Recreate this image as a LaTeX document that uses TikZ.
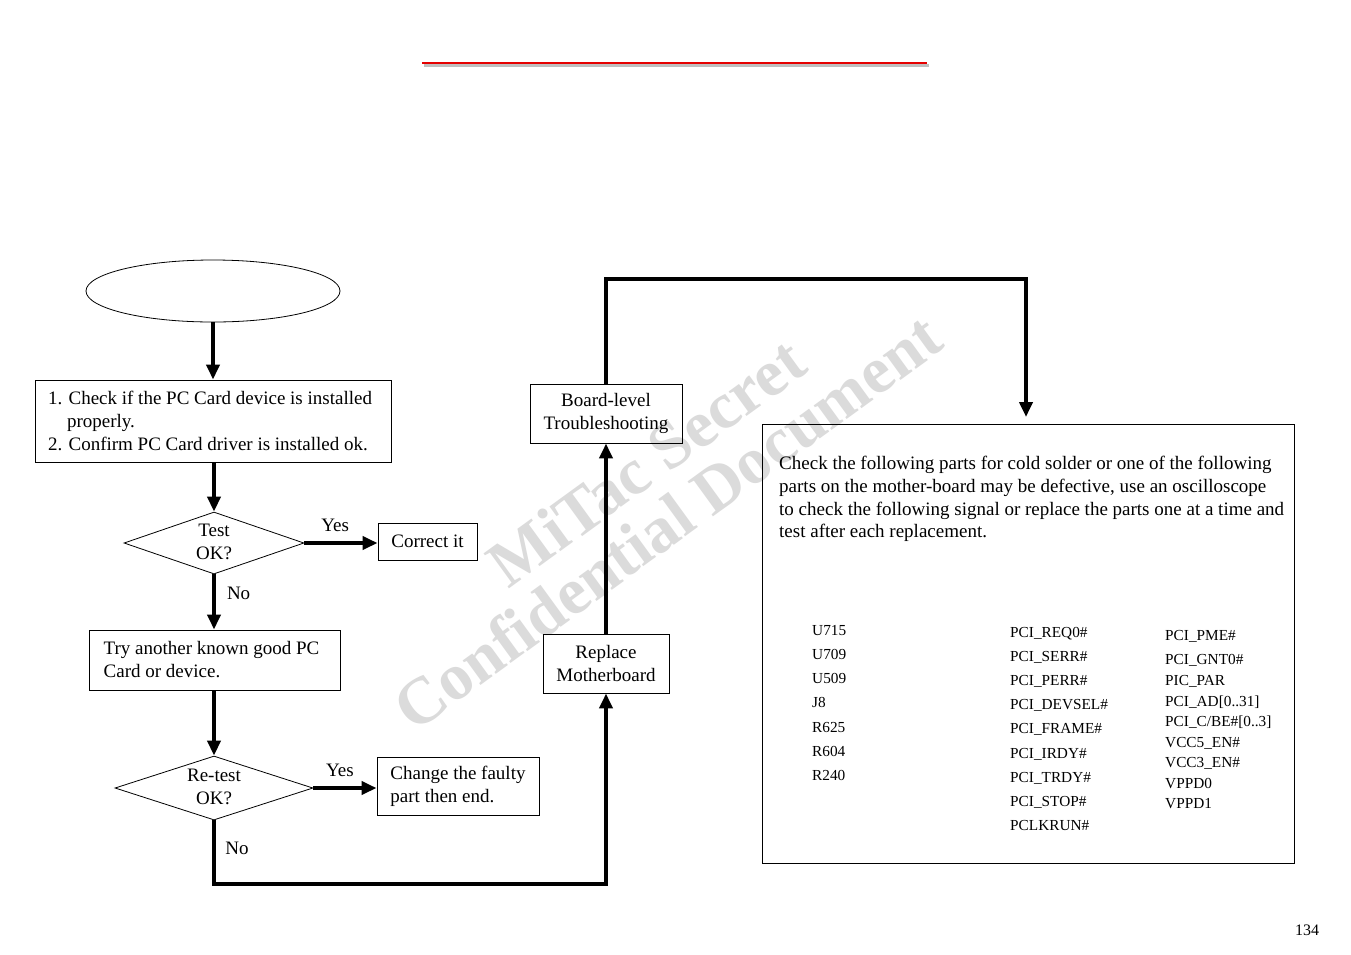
\documentclass[tikz,border=0pt]{standalone}
\usepackage{fontspec}
\setmainfont{Liberation Serif}
\usetikzlibrary{shapes.geometric,arrows.meta,shadows}
\begin{document}
\begin{tikzpicture}[x=1pt,y=-1pt,
  box/.style={draw, line width=0.9pt, fill=white, inner sep=0pt,
    drop shadow={shadow xshift=1.4pt, shadow yshift=-1.4pt, fill=black, opacity=1},
    font=\fontsize{19}{23}\selectfont},
  dia/.style={draw, diamond, line width=0.8pt, inner sep=0pt},
  txt/.style={font=\fontsize{19}{23}\selectfont, inner sep=0pt},
  lbl/.style={font=\fontsize{19}{23}\selectfont, inner sep=0pt},
  part/.style={font=\fontsize{15.3}{18}\selectfont, anchor=base west, inner sep=0pt},
  arr/.style={line width=4pt, -{Triangle[length=15pt,width=13pt]}},
  ln/.style={line width=4pt},
  wm/.style={text=black!14, font=\bfseries\fontsize{66}{68}\selectfont, rotate=36, inner sep=0pt, blend mode=multiply}
]
\fill[white] (0,0) rectangle (1351,954);
\useasboundingbox (0,0) rectangle (1351,954);

% title rule
\draw[line width=2.5pt, black!25] (424,65.5) -- (929,65.5);
\draw[line width=2.5pt, red!90!black] (422,63) -- (927,63);

% left column
\node[draw, ellipse, line width=0.8pt, minimum width=254pt, minimum height=62pt, inner sep=0pt] (start) at (213,291) {};
\node[box, minimum width=356pt, minimum height=82pt, align=left] (chk) at (213,421)
  {\hspace*{-6pt}1. Check if the PC Card device is installed\\\hspace*{-6pt}\hspace*{1em}properly.\\\hspace*{-6pt}2. Confirm PC Card driver is installed ok.};
\node[dia, minimum width=180pt, minimum height=62pt] (d1) at (214,543) {};
\node[txt, align=center] (d1t) at (214,542) {Test\\OK?};
\node[box, minimum width=99pt, minimum height=37pt] (fix) at (427.5,541.5) {Correct it};
\node[box, minimum width=251pt, minimum height=60pt, align=left] (again) at (214.5,660)
  {\hspace*{-6pt}Try another known good PC\\\hspace*{-6pt}Card or device.};
\node[dia, minimum width=198pt, minimum height=64pt] (d2) at (214,788) {};
\node[txt, align=center] (d2t) at (214,787) {Re-test\\OK?};
\node[box, minimum width=162pt, minimum height=58pt, align=left] (chg) at (458,786)
  {Change the faulty\\part then end.};

% middle column
\node[box, minimum width=126pt, minimum height=59pt, align=center] (rm) at (606,663.5) {Replace\\Motherboard};
\node[box, minimum width=152pt, minimum height=59pt, align=center] (bl) at (606,413.5) {Board-level\\Troubleshooting};

% big box
\node[box, minimum width=532pt, minimum height=439pt] (big) at (1028,643.5) {};
\node[txt, anchor=base west] (p1) at (779,469) {Check the following parts for cold solder or one of the following};
\node[txt, anchor=base west] (p2) at (779,492) {parts on the mother-board may be defective, use an oscilloscope};
\node[txt, anchor=base west] (p3) at (779,515) {to check the following signal or replace the parts one at a time and};
\node[txt, anchor=base west] (p4) at (779,537) {test after each replacement.};

\node[part] (a1) at (812,635) {U715};
\node[part] (a2) at (812,659) {U709};
\node[part] (a3) at (812,683) {U509};
\node[part] (a4) at (812,707) {J8};
\node[part] (a5) at (812,732) {R625};
\node[part] (a6) at (812,756) {R604};
\node[part] (a7) at (812,780) {R240};

\node[part] (b1) at (1010,637) {PCI\_REQ0\#};
\node[part] (b2) at (1010,661) {PCI\_SERR\#};
\node[part] (b3) at (1010,685) {PCI\_PERR\#};
\node[part] (b4) at (1010,709) {PCI\_DEVSEL\#};
\node[part] (b5) at (1010,733) {PCI\_FRAME\#};
\node[part] (b6) at (1010,758) {PCI\_IRDY\#};
\node[part] (b7) at (1010,782) {PCI\_TRDY\#};
\node[part] (b8) at (1010,806) {PCI\_STOP\#};
\node[part] (b9) at (1010,830) {PCLKRUN\#};

\node[part] (c1) at (1165,640) {PCI\_PME\#};
\node[part] (c2) at (1165,664) {PCI\_GNT0\#};
\node[part] (c3) at (1165,685) {PIC\_PAR};
\node[part] (c4) at (1165,706) {PCI\_AD[0..31]};
\node[part] (c5) at (1165,726) {PCI\_C/BE\#[0..3]};
\node[part] (c6) at (1165,747) {VCC5\_EN\#};
\node[part] (c7) at (1165,767) {VCC3\_EN\#};
\node[part] (c8) at (1165,788) {VPPD0};
\node[part] (c9) at (1165,808) {VPPD1};

% page number
\node[font=\fontsize{16}{18}\selectfont, inner sep=0pt] (pg) at (1307,930) {134};

% connectors
\coordinate (bottomturn) at (214,884);
\coordinate (topturn) at (606,279);
\coordinate (bigin) at (1026,417);
\draw[arr] (start.south) -- (start.south |- chk.north);
\draw[arr] (d1.north |- chk.south) -- (d1.north);
\draw[arr] (d1.east) -- (d1.east -| fix.west) node[lbl, pos=0.42, above=9pt] (y1) {Yes};
\draw[arr] (d1.south) -- (d1.south |- again.north) node[lbl, pos=0.35, right=11pt] (n1) {No};
\draw[arr] (d2.north |- again.south) -- (d2.north);
\draw[arr] (d2.east) -- (d2.east -| chg.west) node[lbl, pos=0.42, above=9pt] (y2) {Yes};
\draw[arr] (d2.south) -- (bottomturn) -| (rm.south);
\node[lbl] (n2) at (237,848) {No};
\draw[arr] (rm.north) -- (bl.south);
\draw[arr] (bl.north) -- (topturn) -| (bigin);

% watermark
\node[wm] (wm1) at (646,462) {MiTac Secret};
\node[wm] (wm2) at (667,522) {Confidential Document};
\end{tikzpicture}
\end{document}
